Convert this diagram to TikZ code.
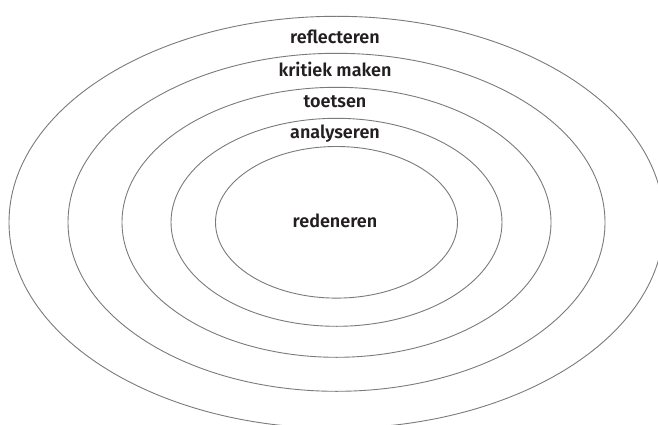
\documentclass[tikz,border=0pt]{standalone}
\usepackage{fontspec}
\setmainfont{Fira Sans}[BoldFont={Fira Sans SemiBold}]
\usepackage{tikz}
\definecolor{ringline}{HTML}{7a7a7a}
\definecolor{labeltext}{HTML}{231f20}

\begin{document}
\begin{tikzpicture}[x=1pt, y=1pt,
    ring/.style={draw=ringline, line width=0.9pt},
    lbl/.style={inner sep=0pt, anchor=base, text=labeltext, font=\fontsize{18}{20}\selectfont\bfseries}]
    \useasboundingbox (0,0) rectangle (658,424);
    \clip (0,0) rectangle (658,424);
    \coordinate (mid) at (336.5,201.7);

    % Rings, outer to inner
    \foreach \rx/\ry in {327.5/206, 268.5/169, 214.5/135, 165.5/104, 121/75.8}
      \draw[ring] (mid) ellipse [x radius=\rx pt, y radius=\ry pt];

    % Labels
    \node[lbl] (reflect) at (335,380) {reflecteren};
    \node[lbl] (kritiek) at (335,348) {kritiek maken};
    \node[lbl] (toets) at (335,316.7) {toetsen};
    \node[lbl] (analyse) at (335,285.7) {analyseren};
    \node[lbl] (reden) at (335,196.7) {redeneren};
  \end{tikzpicture}
\end{document}
